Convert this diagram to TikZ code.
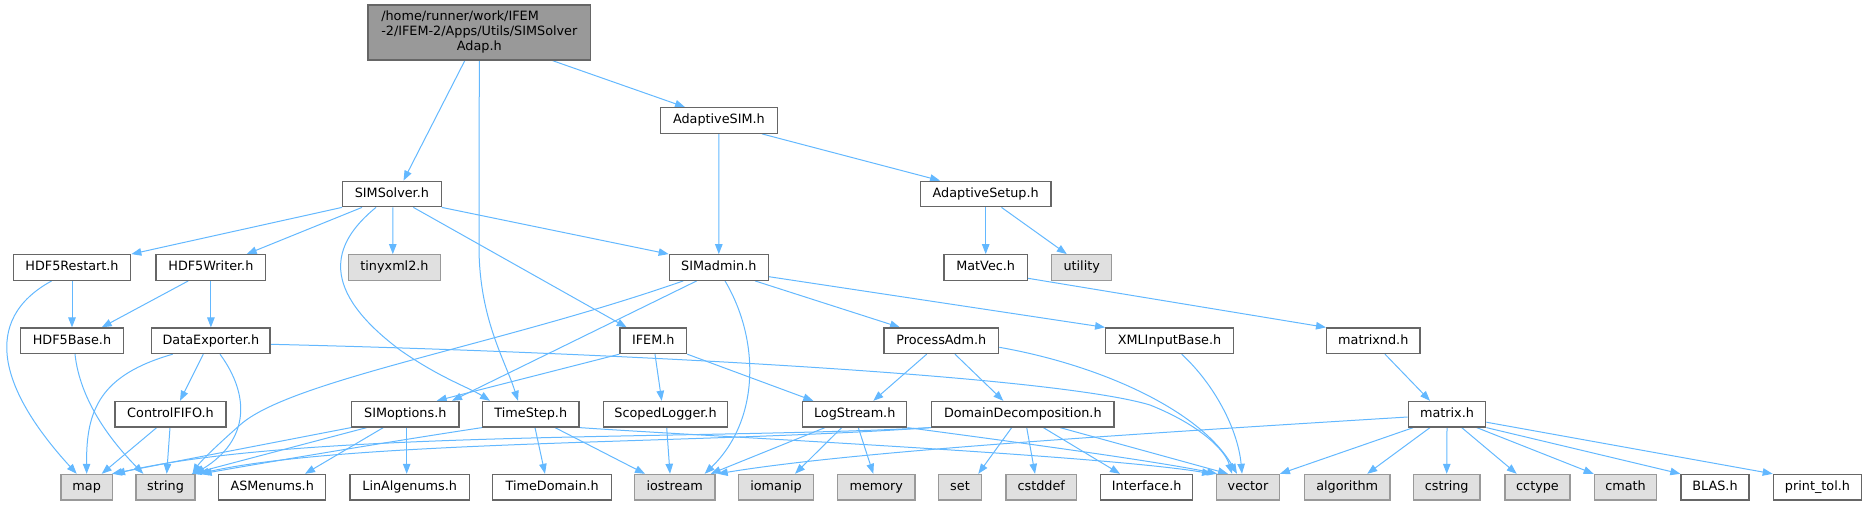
\documentclass[tikz,border=0pt]{standalone}
\usepackage{fontspec}
\setmainfont{DejaVu Sans}
\usetikzlibrary{arrows.meta}
\definecolor{edgec}{HTML}{63B8FF}
\definecolor{boxborder}{HTML}{666666}
\definecolor{grayfill}{HTML}{E0E0E0}
\definecolor{grayborder}{HTML}{999999}
\definecolor{rootfill}{HTML}{999999}
\pgfdeclarelayer{bg}
\pgfsetlayers{bg,main}
\tikzset{
  hbox/.style={draw=boxborder, fill=white, line width=1.3pt, inner sep=0pt,
    minimum height=25.5pt, text height=9.4pt, text depth=2.9pt,
    font=\fontsize{12.8}{15}\selectfont},
  sysbox/.style={hbox, draw=grayborder, fill=grayfill},
  rootbox/.style={draw=boxborder, fill=rootfill, line width=1.3pt, inner sep=0pt,
    minimum width=222.6pt, minimum height=55pt, font=\fontsize{12.8}{15}\selectfont},
  e/.style={draw=edgec, line width=1pt, -{Triangle[length=10pt,width=7.5pt]}},
}
\begin{document}
\begin{tikzpicture}[x=1pt,y=-1pt]
\useasboundingbox (0,0) rectangle (1867,505);
% row 1
\node[rootbox] (root) at (479.3,32.5) {\begin{tabular}{@{}l@{}}/home/runner/work/IFEM\\-2/IFEM-2/Apps/Utils/SIMSolver\\\multicolumn{1}{@{}c@{}}{Adap.h}\end{tabular}};
% row 2
\node[hbox, minimum width=116.7pt] (AdaptiveSIM) at (718.9,120.5) {AdaptiveSIM.h};
% row 3
\node[hbox, minimum width=98.5pt] (SIMSolver) at (391.9,194) {SIMSolver.h};
\node[hbox, minimum width=130.6pt] (AdaptiveSetup) at (985.7,194) {AdaptiveSetup.h};
% row 4
\node[hbox, minimum width=117.4pt] (HDF5Restart) at (72,267.5) {HDF5Restart.h};
\node[hbox, minimum width=109.7pt] (HDF5Writer) at (210.9,267.5) {HDF5Writer.h};
\node[sysbox, minimum width=92.4pt] (tinyxml2) at (394.5,267.5) {tinyxml2.h};
\node[hbox, minimum width=99pt] (SIMadmin) at (718.8,267.5) {SIMadmin.h};
\node[hbox, minimum width=83.3pt] (MatVec) at (985.7,267.5) {MatVec.h};
\node[sysbox, minimum width=60pt] (utility) at (1081.7,267.5) {utility};
% row 5
\node[hbox, minimum width=102.6pt] (HDF5Base) at (72,340.8) {HDF5Base.h};
\node[hbox, minimum width=118.3pt] (DataExporter) at (210.9,340.8) {DataExporter.h};
\node[hbox, minimum width=66.7pt] (IFEM) at (653.3,340.8) {IFEM.h};
\node[hbox, minimum width=114.7pt] (ProcessAdm) at (941.3,340.8) {ProcessAdm.h};
\node[hbox, minimum width=127.6pt] (XMLInputBase) at (1169.5,340.8) {XMLInputBase.h};
\node[hbox, minimum width=93.3pt] (matrixnd) at (1373.3,340.8) {matrixnd.h};
% row 6
\node[hbox, minimum width=111pt] (ControlFIFO) at (170.5,414.2) {ControlFIFO.h};
\node[hbox, minimum width=107.3pt] (SIMoptions) at (405.3,414.2) {SIMoptions.h};
\node[hbox, minimum width=96.3pt] (TimeStep) at (530.8,414.2) {TimeStep.h};
\node[hbox, minimum width=124.4pt] (ScopedLogger) at (665.5,414.2) {ScopedLogger.h};
\node[hbox, minimum width=104pt] (LogStream) at (854.7,414.2) {LogStream.h};
\node[hbox, minimum width=182.3pt] (DD) at (1022.8,414.2) {DomainDecomposition.h};
\node[hbox, minimum width=77.4pt] (matrix) at (1447,414.2) {matrix.h};
% row 7
\node[sysbox, minimum width=51.3pt] (map) at (86.7,487.2) {map};
\node[sysbox, minimum width=59pt] (string) at (165.5,487.2) {string};
\node[hbox, minimum width=107pt] (ASMenums) at (272.2,487.2) {ASMenums.h};
\node[hbox, minimum width=119.3pt] (LinAlgenums) at (409.7,487.2) {LinAlgenums.h};
\node[hbox, minimum width=119pt] (TimeDomain) at (552.2,487.2) {TimeDomain.h};
\node[sysbox, minimum width=80.7pt] (iostream) at (674.7,487.2) {iostream};
\node[sysbox, minimum width=74.6pt] (iomanip) at (776,487.2) {iomanip};
\node[sysbox, minimum width=77.3pt] (memory) at (876.3,487.2) {memory};
\node[sysbox, minimum width=43.4pt] (set) at (960,487.2) {set};
\node[sysbox, minimum width=70.7pt] (cstddef) at (1041.3,487.2) {cstddef};
\node[hbox, minimum width=92pt] (Interface) at (1146.7,487.2) {Interface.h};
\node[sysbox, minimum width=62.6pt] (vector) at (1248,487.2) {vector};
\node[sysbox, minimum width=85.7pt] (algorithm) at (1347.2,487.2) {algorithm};
\node[sysbox, minimum width=66.7pt] (cstring) at (1446.7,487.2) {cstring};
\node[sysbox, minimum width=65pt] (cctype) at (1537.5,487.2) {cctype};
\node[sysbox, minimum width=62.4pt] (cmath) at (1625.5,487.2) {cmath};
\node[hbox, minimum width=68pt] (BLAS) at (1715,487.2) {BLAS.h};
\node[hbox, minimum width=88.4pt] (printtol) at (1817.5,487.2) {print\_tol.h};

\begin{pgfonlayer}{bg}
% root
\draw[e] ([xshift=-14.5]root.south) -- ([xshift=11.6]SIMSolver.north);
\draw[e] (root.south) -- (479,250) .. controls (480,320) and (505,360) .. ([xshift=-12.8]TimeStep.north);
\draw[e] ([xshift=73.3]root.south) -- ([xshift=-33.9]AdaptiveSIM.north);
% AdaptiveSIM
\draw[e] (AdaptiveSIM.south) -- (SIMadmin.north);
\draw[e] ([xshift=43.1]AdaptiveSIM.south) -- ([xshift=-45.7]AdaptiveSetup.north);
% AdaptiveSetup
\draw[e] (AdaptiveSetup.south) -- (MatVec.north);
\draw[e] ([xshift=15.8]AdaptiveSetup.south) -- ([xshift=-14.9]utility.north);
% SIMSolver
\draw[e] (SIMSolver.south west) -- (HDF5Restart.north east);
\draw[e] ([xshift=-29.9]SIMSolver.south) -- ([xshift=35.8]HDF5Writer.north);
\draw[e] ([xshift=-15.9]SIMSolver.south) .. controls (330,245) and (320,290) .. (400,350) .. controls (440,378) and (470,388) .. ([xshift=-40.8]TimeStep.north);
\draw[e] ([xshift=0.9]SIMSolver.south) -- ([xshift=-1.7]tinyxml2.north);
\draw[e] ([xshift=21.5]SIMSolver.south) -- ([xshift=-26.6]IFEM.north);
\draw[e] (SIMSolver.south east) -- (SIMadmin.north west);
% HDF5Restart
\draw[e] ([xshift=-20.3]HDF5Restart.south) .. controls (-20,320) and (0,390) .. ([xshift=-10]map.north);
\draw[e] (HDF5Restart.south) -- (HDF5Base.north);
% HDF5Writer
\draw[e] ([xshift=-22.6]HDF5Writer.south) -- ([xshift=29.7]HDF5Base.north);
\draw[e] (HDF5Writer.south) -- (DataExporter.north);
% HDF5Base
\draw[e] ([xshift=3]HDF5Base.south) .. controls (80,400) and (110,440) .. ([xshift=-22.2]string.north);
% DataExporter
\draw[e] ([xshift=-38.2]DataExporter.south) .. controls (100,375) and (86,410) .. (map.north);
\draw[e] ([xshift=-7.6]DataExporter.south) -- ([xshift=9.5]ControlFIFO.north);
\draw[e] ([xshift=9.1]DataExporter.south) .. controls (250,395) and (250,440) .. ([xshift=-1]string.north east);
\draw[e] ([yshift=-3.5]DataExporter.east) .. controls (600,352) and (1050,375) .. (1150,405) .. controls (1200,425) and (1225,450) .. ([xshift=-16]vector.north);
% ControlFIFO
\draw[e] ([xshift=-13.8]ControlFIFO.south) -- ([xshift=15]map.north);
\draw[e] ([xshift=-0.5]ControlFIFO.south) -- ([xshift=1.2]string.north);
% SIMadmin
\draw[e] ([xshift=-35.5]SIMadmin.south) .. controls (500,345) and (290,380) .. (240,425) .. controls (215,447) and (200,462) .. ([xshift=27]string.north);
\draw[e] ([xshift=-22.1]SIMadmin.south) -- ([xshift=46.7]SIMoptions.north);
\draw[e] ([xshift=6.2]SIMadmin.south) .. controls (760,340) and (760,420) .. ([xshift=30]iostream.north);
\draw[e] ([xshift=36.2]SIMadmin.south) -- ([xshift=-41.3]ProcessAdm.north);
\draw[e] ([yshift=-9.2]SIMadmin.east) -- (XMLInputBase.north west);
% IFEM
\draw[e] (IFEM.south west) -- ([xshift=31.4]SIMoptions.north);
\draw[e] (IFEM.south east) -- ([xshift=-41.4]LogStream.north);
\draw[e] ([xshift=1.7]IFEM.south) -- ([xshift=-3.8]ScopedLogger.north);
% ProcessAdm
\draw[e] ([xshift=-14.6]ProcessAdm.south) -- ([xshift=18.6]LogStream.north);
\draw[e] ([xshift=13.7]ProcessAdm.south) -- ([xshift=-19.5]DD.north);
\draw[e] ([yshift=-6.5]ProcessAdm.east) .. controls (1100,365) and (1200,410) .. ([xshift=-11]vector.north);
% XMLInputBase
\draw[e] ([xshift=12.2]XMLInputBase.south) .. controls (1215,385) and (1238,430) .. ([xshift=-6]vector.north);
% MatVec, matrixnd
\draw[e] ([yshift=-10.8]MatVec.east) -- (matrixnd.north west);
\draw[e] ([xshift=11.7]matrixnd.south) -- ([xshift=-17]matrix.north);
% matrix
\draw[e] ([xshift=-33.7]matrix.south) -- (vector.north east);
\draw[e] ([xshift=-17]matrix.south) -- ([xshift=20]algorithm.north);
\draw[e] (matrix.south) -- (cstring.north);
\draw[e] ([xshift=14.7]matrix.south) -- ([xshift=-20.8]cctype.north);
\draw[e] ([xshift=29.7]matrix.south) -- (cmath.north west);
\draw[e] (matrix.south east) -- (BLAS.north west);
\draw[e] ([yshift=-8]matrix.east) -- (printtol.north west);
\draw[e] ([yshift=-2.8]matrix.west) .. controls (1100,436) and (850,452) .. ([xshift=2]iostream.north east);
% ScopedLogger
\draw[e] ([xshift=1.2]ScopedLogger.south) -- ([xshift=-4.7]iostream.north);
% TimeStep
\draw[e] ([xshift=4.2]TimeStep.south) -- ([xshift=-7.2]TimeDomain.north);
\draw[e] ([xshift=24.2]TimeStep.south) -- ([xshift=-29.7]iostream.north);
\draw[e] (TimeStep.south east) .. controls (700,436) and (1100,455) .. ([xshift=-4]vector.north west);
\draw[e] (TimeStep.south west) .. controls (400,440) and (280,460) .. ([xshift=6]string.north east);
% LogStream
\draw[e] ([xshift=-29.7]LogStream.south) -- ([xshift=36]iostream.north);
\draw[e] ([xshift=-13]LogStream.south) -- ([xshift=19]iomanip.north);
\draw[e] ([xshift=3.6]LogStream.south) -- ([xshift=-3]memory.north);
\draw[e] (LogStream.south east) .. controls (1000,440) and (1150,460) .. ([xshift=1]vector.north west);
% DomainDecomposition
\draw[e] ([xshift=-11.1]DD.south) -- ([xshift=18.3]set.north);
\draw[e] ([xshift=3.9]DD.south) -- ([xshift=-6.3]cstddef.north);
\draw[e] ([xshift=20.5]DD.south) -- ([xshift=-26.7]Interface.north);
\draw[e] ([xshift=37.2]DD.south) -- ([xshift=-20]vector.north);
\draw[e] (DD.south west) .. controls (700,440) and (300,430) .. ([xshift=2]map.north east);
\draw[e] (DD.south west) .. controls (700,444) and (350,440) .. ([xshift=3]string.north east);
% SIMoptions
\draw[e] (SIMoptions.south west) -- ([xshift=-1]map.north east);
\draw[e] ([xshift=-38.6]SIMoptions.south) -- ([xshift=-4]string.north east);
\draw[e] ([xshift=-22]SIMoptions.south) -- ([xshift=32.8]ASMenums.north);
\draw[e] ([xshift=1.4]SIMoptions.south) -- ([xshift=-3]LinAlgenums.north);
\end{pgfonlayer}
\end{tikzpicture}
\end{document}
